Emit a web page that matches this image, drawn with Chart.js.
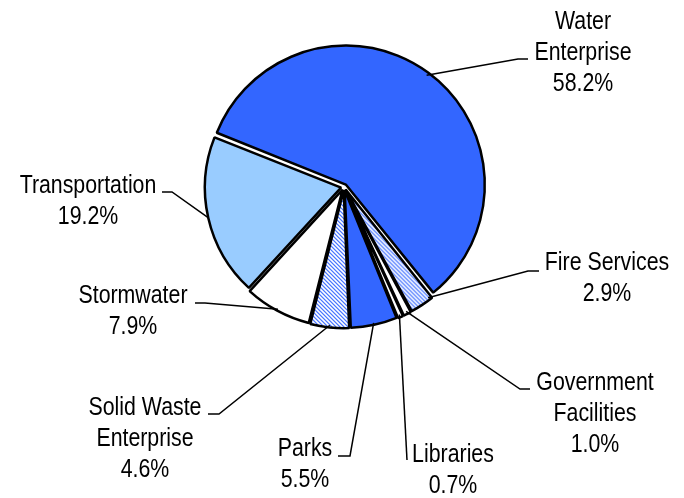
<!DOCTYPE html>
<html>
<head>
<meta charset="utf-8">
<script src="https://cdn.jsdelivr.net/npm/chart.js@4.4.1/dist/chart.umd.min.js"></script>
<style>
  html, body { margin: 0; padding: 0; background: #fff; }
  #wrap { width: 684px; height: 498px; }
</style>
</head>
<body>
<div id="wrap"><canvas id="capitalChart" width="684" height="498"></canvas></div>
<script>
/* ~~~~~~~~~~ DATA ~~~~~~~~~~*/

const categories = [
  ['Water', 'Enterprise'],
  ['Fire Services'],
  ['Government', 'Facilities'],
  ['Libraries'],
  ['Parks'],
  ['Solid Waste', 'Enterprise'],
  ['Stormwater'],
  ['Transportation']
];
const shares = [58.2, 2.9, 1.0, 0.7, 5.5, 4.6, 7.9, 19.2];

/* ~~~~~~~~~~ LABEL PLACEMENT ~~~~~~~~~~*/

// text centre x, first baseline y, leader bend points (from slice edge outwards)
const labelSpots = [
  { x: 583, y: 29,  leader: [[518, 59], [528, 59]] },
  { x: 607, y: 270, leader: [[528, 271], [539, 271]] },
  { x: 595, y: 390, leader: [[520, 389], [530, 389]] },
  { x: 453, y: 462, leader: [[407, 460]] },
  { x: 305, y: 456, leader: [[350, 456], [338, 456]] },
  { x: 145, y: 415, leader: [[219, 414], [208, 414]] },
  { x: 133, y: 303, leader: [[205, 303], [195, 303]] },
  { x: 88,  y: 193, leader: [[172, 192], [162, 192]] }
];
// where along each slice the leader touches (0 = start, 1 = end)
const anchorAt = [0.5, 0.15, 0.5, 0.5, 0.5, 0.5, 0.5, 0.5];

/* ~~~~~~~~~~ HELPERS ~~~~~~~~~~*/

const makeHatch = () => {
  const c = document.createElement('canvas');
  c.width = 4;
  c.height = 4;
  const g = c.getContext('2d');
  g.fillStyle = '#ffffff';
  g.fillRect(0, 0, 4, 4);
  for (let y = 0; y < 4; y++) {
    for (let x = 0; x < 4; x++) {
      const k = ((x - y) % 4 + 4) % 4;
      if (k === 0) { g.fillStyle = '#3366ff'; g.fillRect(x, y, 1, 1); }
      if (k === 1) { g.fillStyle = '#8fabff'; g.fillRect(x, y, 1, 1); }
    }
  }
  return g.createPattern(c, 'repeat');
};

const pickFont = (ctx) => {
  ctx.font = '26px "Liberation Sans Narrow"';
  const narrow = ctx.measureText('Transportation').width;
  ctx.font = '26px "Liberation Sans"';
  const normal = ctx.measureText('Transportation').width;
  if (narrow < normal * 0.9) return { family: '"Liberation Sans Narrow"', squeeze: 1 };
  return { family: '"Liberation Sans", Arial, sans-serif', squeeze: 0.82 };
};

const hatch = makeHatch();
const sliceFill = ['#3366ff', hatch, '#ffffff', '#ffffff', '#3366ff', hatch, '#ffffff', '#99ccff'];

/* ~~~~~~~~~~ LEADER LABELS PLUGIN ~~~~~~~~~~*/

const leaderLabels = {
  id: 'leaderLabels',
  afterDatasetsDraw(chart) {
    const ctx = chart.ctx;
    const meta = chart.getDatasetMeta(0);
    const font = pickFont(ctx);
    ctx.save();
    meta.data.forEach((arc, i) => {
      const p = arc.getProps(['x', 'y', 'startAngle', 'endAngle', 'outerRadius'], true);
      const a = p.startAngle + (p.endAngle - p.startAngle) * anchorAt[i];
      const r = p.outerRadius + 3;
      const spot = labelSpots[i];

      ctx.beginPath();
      ctx.moveTo(p.x + Math.cos(a) * r, p.y + Math.sin(a) * r);
      spot.leader.forEach(([lx, ly]) => ctx.lineTo(lx, ly));
      ctx.strokeStyle = '#000';
      ctx.lineWidth = 1.5;
      ctx.stroke();

      const lines = categories[i].concat([shares[i].toFixed(1) + '%']);
      ctx.fillStyle = '#000';
      ctx.font = '26px ' + font.family;
      ctx.textAlign = 'center';
      ctx.textBaseline = 'alphabetic';
      lines.forEach((line, j) => {
        ctx.save();
        ctx.translate(spot.x, spot.y + j * 31);
        ctx.scale(font.squeeze, 1);
        ctx.fillText(line, 0, 0);
        ctx.restore();
      });
    });
    ctx.restore();
  }
};

/* ~~~~~~~~~~ CHART ~~~~~~~~~~*/

const ctx = document.getElementById('capitalChart').getContext('2d');
new Chart(ctx, {
  type: 'pie',
  data: {
    labels: categories,
    datasets: [{
      data: shares,
      backgroundColor: sliceFill,
      borderColor: '#000000',
      borderWidth: 2.5,
      offset: 12
    }]
  },
  options: {
    responsive: false,
    animation: false,
    rotation: 291.7,
    radius: 136,
    layout: { padding: { left: 4, right: 0, top: 0, bottom: 124 } },
    plugins: {
      legend: { display: false },
      tooltip: { enabled: false }
    }
  },
  plugins: [leaderLabels]
});
</script>
</body>
</html>
